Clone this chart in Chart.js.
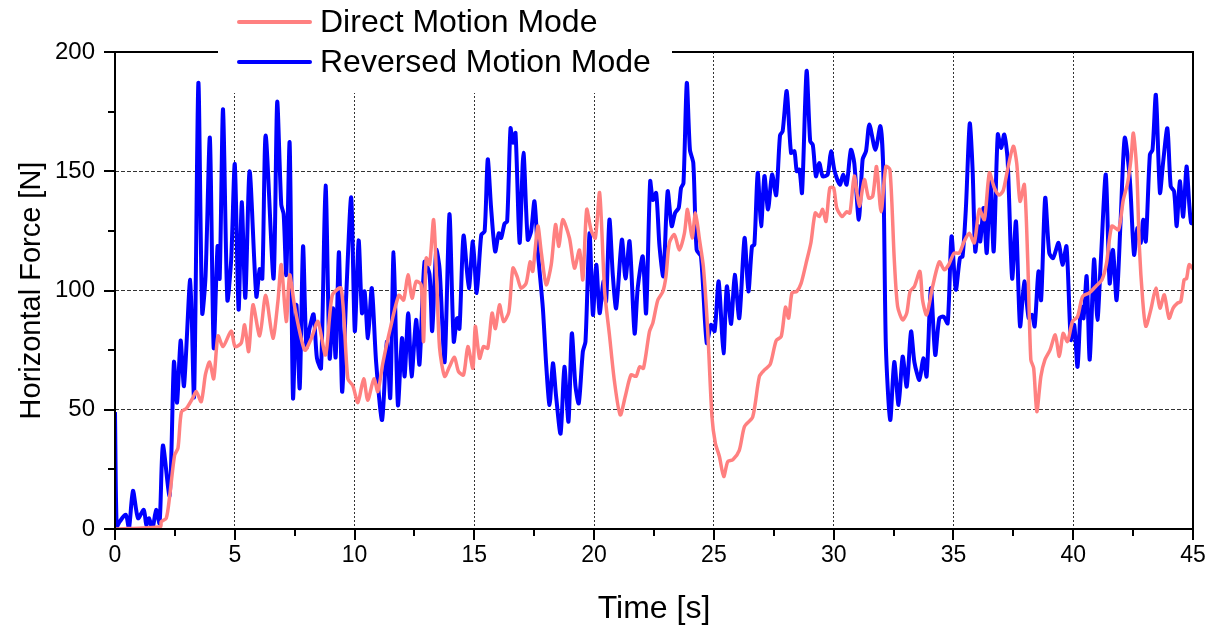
<!DOCTYPE html>
<html>
<head>
<meta charset="utf-8">
<script src="https://cdn.jsdelivr.net/npm/chart.js@4.4.1/dist/chart.umd.min.js"></script>
<style>
  html, body { margin: 0; padding: 0; background: #fff; }
  canvas { display: block; }
</style>
</head>
<body>
<canvas id="forceChart" width="1224" height="630"></canvas>
<script>
// time [s] / horizontal force [N] samples for each mode
var dirTime = [0, 1.9, 1.93, 2.14, 2.28, 2.49, 2.63, 2.77, 2.98, 3.25, 3.39, 3.6, 3.78, 3.95, 4.12, 4.3, 4.51, 4.85, 5.01, 5.27, 5.41, 5.58, 5.76, 6.04, 6.29, 6.59, 6.8, 6.94, 7.15, 7.29, 7.51, 7.92, 8.2, 8.47, 8.79, 9.07, 9.44, 9.72, 9.93, 10.14, 10.38, 10.55, 10.81, 10.97, 11.18, 11.49, 11.85, 12.05, 12.23, 12.4, 12.57, 12.78, 12.88, 12.99, 13.13, 13.3, 13.43, 13.55, 13.76, 13.96, 14.17, 14.34, 14.55, 14.73, 14.94, 15.04, 15.22, 15.38, 15.56, 15.74, 15.88, 16.05, 16.22, 16.44, 16.61, 16.78, 16.95, 17.16, 17.33, 17.44, 17.65, 17.79, 18.0, 18.21, 18.39, 18.53, 18.69, 18.97, 19.18, 19.39, 19.53, 19.69, 19.87, 20.05, 20.23, 20.44, 20.64, 20.85, 21.09, 21.31, 21.54, 21.75, 21.9, 22.06, 22.31, 22.45, 22.66, 22.87, 23.0, 23.14, 23.35, 23.56, 23.77, 23.9, 24.09, 24.23, 24.4, 24.56, 24.74, 24.92, 25.06, 25.23, 25.41, 25.58, 25.79, 26.06, 26.28, 26.62, 26.9, 27.11, 27.35, 27.6, 27.81, 27.99, 28.12, 28.26, 28.46, 28.64, 28.85, 29.05, 29.23, 29.4, 29.54, 29.68, 29.84, 30.0, 30.13, 30.35, 30.54, 30.68, 30.86, 31.07, 31.28, 31.46, 31.63, 31.79, 31.98, 32.18, 32.35, 32.53, 32.67, 32.88, 33.05, 33.19, 33.37, 33.6, 33.71, 33.88, 34.13, 34.41, 34.62, 34.8, 35.03, 35.24, 35.45, 35.66, 35.87, 36.08, 36.29, 36.5, 36.71, 36.91, 37.08, 37.26, 37.5, 37.64, 37.78, 37.96, 38.1, 38.23, 38.35, 38.48, 38.65, 38.82, 39.03, 39.25, 39.42, 39.58, 39.76, 39.97, 40.18, 40.39, 40.67, 40.94, 41.2, 41.39, 41.61, 41.89, 42.09, 42.27, 42.41, 42.51, 42.65, 42.76, 42.9, 43.03, 43.24, 43.45, 43.62, 43.8, 44.0, 44.17, 44.35, 44.49, 44.63, 44.73, 44.84, 45];
var dirForce = [0, 1, 3, 4.5, 13.6, 31, 34, 49, 50.6, 55, 57.6, 53.4, 65, 70, 63, 81, 76.5, 83, 76.5, 78, 85.6, 74.4, 94, 81, 98, 80, 95.4, 110.8, 87, 106.6, 92.6, 75, 80, 87, 73, 98, 101, 63, 60, 53, 63, 54, 63, 57.6, 69.5, 84, 98, 96, 106.6, 96.8, 103.8, 102.4, 78.6, 113.6, 110.8, 129.7, 103.8, 75.8, 64, 68, 72, 66, 64.6, 76.5, 67.4, 85, 71.6, 76.5, 75.8, 90.5, 84, 94, 87, 91, 109.4, 106, 101, 103, 112, 108, 127, 116.4, 102.4, 110.8, 127.6, 118.5, 129.7, 122, 109.4, 117, 104.5, 134, 125.5, 122, 141, 99.6, 81.4, 61.8, 47.8, 56, 64.6, 64, 68, 67.4, 82.8, 86.3, 96, 99.6, 106, 120, 123.4, 117, 124, 134, 122, 132.5, 121.3, 110, 83.5, 47, 36, 30.4, 22, 28.3, 29, 33, 43, 47, 64, 66.7, 69, 79, 80.7, 93, 88.4, 99, 99.6, 103, 111.5, 120, 132.5, 131, 134, 129, 143, 143, 134.6, 131, 133, 132.5, 148, 135.3, 146.5, 138.8, 139.5, 152, 133, 152, 150.7, 113, 93.3, 87.7, 90.5, 99.6, 101.7, 108, 96, 89.8, 101.7, 112, 108.7, 110.8, 115.7, 115.7, 120.6, 124, 120, 134, 129.7, 149.3, 143, 140, 142, 150.7, 160.5, 153.5, 137.4, 144.4, 113, 71, 67.4, 49.2, 64, 71, 75, 81.4, 72.3, 82, 78.6, 87, 89, 97.5, 99, 101.7, 104.5, 111.5, 127, 125.5, 138, 145, 155, 166, 150.7, 118.5, 96, 85, 92, 101, 92.6, 98.2, 88.4, 92.6, 94.7, 95.4, 104.5, 105, 110.8, 109];

var revTime = [0, 0.07, 0.19, 0.45, 0.58, 0.75, 0.96, 1.2, 1.31, 1.42, 1.56, 1.72, 1.86, 2.0, 2.28, 2.46, 2.59, 2.74, 2.88, 3.14, 3.3, 3.48, 3.64, 3.78, 3.96, 4.12, 4.28, 4.37, 4.51, 4.69, 4.85, 5.0, 5.16, 5.29, 5.44, 5.62, 5.9, 6.04, 6.15, 6.29, 6.62, 6.77, 6.94, 7.04, 7.15, 7.29, 7.43, 7.57, 7.71, 7.85, 7.99, 8.12, 8.29, 8.43, 8.6, 8.79, 8.96, 9.1, 9.21, 9.35, 9.48, 9.65, 9.86, 10.01, 10.17, 10.31, 10.42, 10.56, 10.72, 10.9, 11.15, 11.35, 11.49, 11.63, 11.81, 11.98, 12.09, 12.24, 12.38, 12.57, 12.71, 12.92, 13.13, 13.24, 13.41, 13.55, 13.76, 13.96, 14.14, 14.28, 14.38, 14.55, 14.77, 14.94, 15.1, 15.29, 15.43, 15.56, 15.7, 15.87, 16.02, 16.12, 16.26, 16.37, 16.51, 16.61, 16.72, 16.89, 17.05, 17.23, 17.37, 17.51, 17.65, 17.86, 18.0, 18.14, 18.28, 18.41, 18.6, 18.76, 18.93, 19.07, 19.22, 19.36, 19.53, 19.64, 19.81, 19.95, 20.09, 20.23, 20.39, 20.5, 20.64, 20.78, 20.92, 21.16, 21.31, 21.48, 21.69, 21.82, 22.03, 22.17, 22.34, 22.45, 22.59, 22.73, 22.89, 23.07, 23.24, 23.38, 23.53, 23.63, 23.73, 23.87, 24.0, 24.14, 24.28, 24.46, 24.7, 24.88, 25.03, 25.2, 25.4, 25.54, 25.72, 25.87, 26.06, 26.28, 26.44, 26.59, 26.69, 26.83, 26.97, 27.11, 27.26, 27.43, 27.6, 27.76, 27.87, 28.04, 28.22, 28.36, 28.46, 28.57, 28.68, 28.87, 29.02, 29.13, 29.26, 29.4, 29.54, 29.75, 29.89, 30.04, 30.26, 30.4, 30.54, 30.72, 30.86, 31.05, 31.21, 31.35, 31.49, 31.74, 31.95, 32.07, 32.18, 32.36, 32.53, 32.71, 32.88, 33.05, 33.23, 33.37, 33.58, 33.74, 33.88, 34.06, 34.24, 34.41, 34.59, 34.76, 34.92, 35.1, 35.27, 35.38, 35.52, 35.68, 35.8, 35.91, 36.04, 36.12, 36.26, 36.39, 36.54, 36.68, 36.85, 36.99, 37.12, 37.26, 37.45, 37.61, 37.78, 37.96, 38.14, 38.28, 38.39, 38.55, 38.66, 38.83, 39.0, 39.16, 39.39, 39.55, 39.72, 39.9, 40.04, 40.18, 40.32, 40.43, 40.56, 40.69, 40.87, 41.01, 41.15, 41.36, 41.52, 41.66, 41.81, 41.98, 42.15, 42.36, 42.54, 42.68, 42.82, 42.92, 43.03, 43.2, 43.31, 43.45, 43.62, 43.75, 43.93, 44.07, 44.21, 44.32, 44.45, 44.59, 44.73, 44.84, 44.92, 45];
var revForce = [49, 1, 3, 6, 0, 16, 4.5, 8, 1.7, 4.5, 0, 8, 2.4, 35, 14, 70, 53, 79, 60, 104.5, 55.5, 187, 90.5, 106, 164, 76, 118.5, 105, 176, 96, 113, 153, 92, 137, 97, 150, 97.5, 109, 105, 165, 105, 179, 136, 132, 106.6, 162, 55, 94, 59, 118.5, 76, 84, 90, 71.6, 67.4, 144, 71.6, 92.6, 72, 116, 57.6, 97.5, 139, 83, 121, 90.5, 99.6, 80, 101, 70, 45.7, 78.6, 55, 116, 52, 80, 64, 90.5, 64, 87.7, 69, 112, 106.6, 83, 117, 109, 70, 132, 78.6, 88.4, 84, 123, 101, 120.6, 99, 123.4, 124.8, 155, 134.6, 116.4, 124, 122, 128, 129, 168, 162, 166, 120, 157.7, 121.3, 124.8, 137.4, 116.4, 92.6, 68.8, 52, 69.5, 56, 40, 68, 45, 82, 60, 52.7, 74.4, 78.6, 124, 89.8, 110.8, 90.5, 103.8, 95.4, 129.7, 106.6, 92.6, 121.3, 105, 120.6, 82, 101, 114.3, 90.5, 145.8, 138, 140.9, 118.5, 106, 141.6, 127, 132.5, 134.6, 143, 145, 187, 159, 153.5, 117, 114.3, 78, 85.6, 83, 103.8, 73.7, 101.7, 86, 106.6, 88.4, 122, 99.6, 118.5, 119.2, 149.3, 127, 148, 134, 148.6, 140, 165, 166.8, 183.6, 157.7, 158.4, 150, 150.7, 141, 192, 162.6, 161, 147.9, 153.5, 147.9, 148.6, 158.4, 150, 144.4, 148.6, 144.4, 159, 153.5, 129.7, 155, 158.4, 169.6, 159, 168.9, 150.7, 76.5, 45.7, 70, 52, 72.3, 59.7, 82.8, 70, 62.5, 71.6, 64, 101, 73, 88.4, 89, 86.3, 122.7, 100.3, 113.6, 114.3, 134.6, 170, 150.7, 116.4, 127, 120.6, 134.6, 115.7, 146.5, 116.4, 165.4, 159.8, 165.4, 155, 105, 129, 85, 103.8, 88.4, 89.8, 85, 108, 96, 138.8, 115.7, 113.6, 120, 110.8, 118.5, 79.3, 85.6, 68, 93.3, 88.4, 106, 71, 113, 87.7, 112, 148.6, 103, 117, 96, 129.7, 164, 147, 115, 126.2, 120, 129.7, 120.6, 157, 159, 182, 141, 153.5, 168, 143.7, 141.6, 127, 145.8, 131, 152, 136.7, 128.3, 128];

var seriesNames = ['Direct Motion Mode', 'Reversed Motion Mode'];
var seriesColors = ['#ff8080', '#0000ff'];
var xTicks = [0, 5, 10, 15, 20, 25, 30, 35, 40, 45];
var yTicks = [0, 50, 100, 150, 200];

function toPoints(ts, vs) {
  return ts.map(function (t, i) { return { x: t, y: vs[i] }; });
}

var FONT = 'Liberation Sans, Arial, sans-serif';

// frame, outward tick marks (major + minor) and the boxed legend on top
var framePlugin = {
  id: 'frame',
  afterDatasetsDraw: function (chart) {
    var ctx = chart.ctx;
    var a = chart.chartArea;
    var xs = chart.scales.x, ys = chart.scales.y;
    ctx.save();
    ctx.strokeStyle = '#000';
    ctx.lineWidth = 2;
    ctx.strokeRect(a.left, a.top, a.right - a.left, a.bottom - a.top);

    ctx.beginPath();
    for (var t = 0; t <= 45; t += 2.5) {
      var px = Math.round(xs.getPixelForValue(t));
      var len = (t % 5 === 0) ? 11 : 7;
      ctx.moveTo(px, a.bottom);
      ctx.lineTo(px, a.bottom + len);
    }
    for (var v = 0; v <= 200; v += 25) {
      var py = Math.round(ys.getPixelForValue(v));
      var l2 = (v % 50 === 0) ? 11 : 7;
      ctx.moveTo(a.left, py);
      ctx.lineTo(a.left - l2, py);
    }
    ctx.stroke();

    // legend box sits over the top border
    ctx.fillStyle = '#fff';
    ctx.fillRect(218, 0, 454, 93);
    ctx.font = '32px ' + FONT;
    ctx.textBaseline = 'middle';
    var rows = [22, 62];
    for (var i = 0; i < seriesNames.length; i++) {
      ctx.strokeStyle = seriesColors[i];
      ctx.lineWidth = 4;
      ctx.lineCap = 'round';
      ctx.beginPath();
      ctx.moveTo(239, rows[i]);
      ctx.lineTo(310, rows[i]);
      ctx.stroke();
      ctx.fillStyle = '#000';
      ctx.fillText(seriesNames[i], 320, rows[i] + 1);
    }
    ctx.restore();
  }
};

function gridColor(edgeA, edgeB) {
  return function (c) {
    var v = c.tick.value;
    return (v === edgeA || v === edgeB) ? 'rgba(0,0,0,0)' : '#333';
  };
}

var ctx = document.getElementById('forceChart').getContext('2d');
var forceChart = new Chart(ctx, {
  type: 'line',
  data: {
    datasets: [{
      label: seriesNames[0],
      data: toPoints(dirTime, dirForce),
      borderColor: seriesColors[0],
      borderWidth: 3.5,
      pointRadius: 0,
      tension: 0.25
    }, {
      label: seriesNames[1],
      data: toPoints(revTime, revForce),
      borderColor: seriesColors[1],
      borderWidth: 4,
      pointRadius: 0,
      tension: 0.25
    }]
  },
  options: {
    responsive: false,
    animation: false,
    events: [],
    layout: { padding: { left: 0, top: 52, right: 31, bottom: 0 } },
    plugins: { legend: { display: false }, tooltip: { enabled: false } },
    scales: {
      x: {
        type: 'linear',
        min: 0,
        max: 45,
        afterFit: function (s) { s.height = 101; },
        afterBuildTicks: function (s) { s.ticks = xTicks.map(function (v) { return { value: v }; }); },
        border: { display: false, dash: [2, 2] },
        grid: { color: gridColor(0, 45), lineWidth: 1, drawTicks: false },
        ticks: { color: '#000', padding: 13, maxRotation: 0, font: { family: FONT, size: 23 } },
        title: { display: true, text: 'Time [s]', color: '#000', font: { family: FONT, size: 32 }, padding: { top: 0, bottom: 2 } }
      },
      y: {
        min: 0,
        max: 200,
        afterFit: function (s) { s.width = 115; },
        afterBuildTicks: function (s) { s.ticks = yTicks.map(function (v) { return { value: v }; }); },
        border: { display: false, dash: [4, 2] },
        grid: { color: gridColor(0, 200), lineWidth: 1, drawTicks: false },
        ticks: { color: '#000', padding: 20, font: { family: FONT, size: 24 } },
        title: { display: true, text: 'Horizontal Force [N]', color: '#000', font: { family: FONT, size: 29 }, padding: { top: 15, bottom: 0 } }
      }
    }
  },
  plugins: [framePlugin]
});
</script>
</body>
</html>
